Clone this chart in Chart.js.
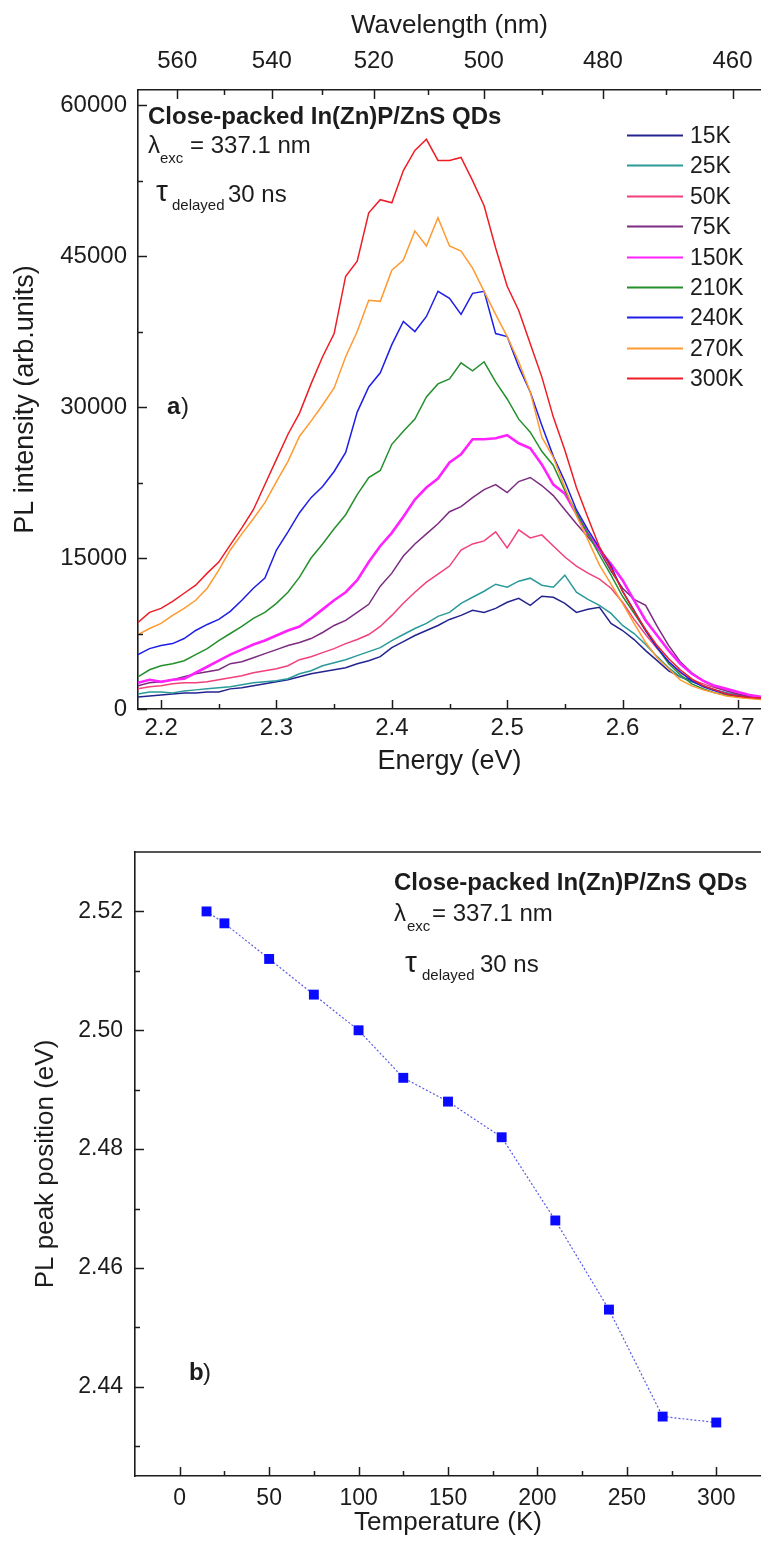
<!DOCTYPE html>
<html>
<head>
<meta charset="utf-8">
<title>Close-packed In(Zn)P/ZnS QDs – time-delayed PL</title>
<script src="https://cdn.jsdelivr.net/npm/chart.js@4/dist/chart.umd.min.js"></script>
<style>
  html, body { margin: 0; padding: 0; background: #ffffff; }
  #wrap { position: relative; width: 761px; height: 1543px; overflow: hidden; }
  #spectra { position: absolute; left: 0; top: 0; }
  #peaks { position: absolute; left: 0; top: 800px; }
</style>
</head>
<body>
<div id="wrap">
  <canvas id="spectra" width="761" height="800"></canvas>
  <canvas id="peaks" width="761" height="743"></canvas>
</div>
<script>
// ---------- (a) PL spectra at different temperatures ----------
const HC = 1239.84; // eV·nm, converts photon energy to wavelength

const energy = [2.18,2.19,2.20,2.21,2.22,2.23,2.24,2.25,2.26,2.27,
                2.28,2.29,2.30,2.31,2.32,2.33,2.34,2.35,2.36,2.37,
                2.38,2.39,2.40,2.41,2.42,2.43,2.44,2.45,2.46,2.47,
                2.48,2.49,2.50,2.51,2.52,2.53,2.54,2.55,2.56,2.57,
                2.58,2.59,2.60,2.61,2.62,2.63,2.64,2.65,2.66,2.67,
                2.68,2.69,2.70,2.71,2.72];

const I15K = [1200,1300,1400,1500,1600,1600,1700,1700,2000,2100,
              2300,2500,2700,2900,3200,3500,3700,3900,4100,4500,
              4800,5200,6100,6700,7300,7800,8300,8900,9300,9800,
              9600,10000,10600,11000,10300,11200,11100,10500,9600,9900,
              10100,8500,7800,6900,5800,4800,3800,3200,2800,2300,
              1900,1600,1300,1200,1000];
const I25K = [1500,1700,1700,1600,1800,1900,2000,2100,2200,2400,
              2600,2700,2800,3000,3500,3800,4300,4600,4900,5300,
              5700,6100,6800,7400,8000,8500,9200,9600,10500,11100,
              11700,12400,12100,12700,13000,12300,12100,13300,11600,10900,
              10300,9500,8300,7500,6400,5200,4100,3200,2700,2300,
              1900,1600,1400,1200,1100];
const I50K = [2000,2200,2300,2500,2600,2600,2700,2900,3100,3300,
              3600,3800,4000,4300,4900,5200,5600,6000,6500,6900,
              7400,8200,9300,10500,11600,12600,13400,14200,15800,16400,
              16700,17600,16000,17800,17000,17300,16200,15100,14200,13500,
              12900,12000,10600,8900,7400,6000,4700,3600,2900,2500,
              2100,1800,1500,1300,1100];
const I75K = [2300,2600,2700,2900,3200,3500,3700,3900,4500,4700,
              5100,5500,5900,6300,6600,7000,7600,8300,8800,9600,
              10400,12200,13500,15200,16400,17400,18400,19600,20100,21000,
              21800,22300,21500,22600,23000,22200,21200,19800,18400,17100,
              15700,13700,12000,10900,10300,8200,6300,4700,3600,2800,
              2200,1800,1500,1300,1100];
const I150K = [2600,2900,2700,2900,3000,3600,4200,4800,5400,5900,
               6400,6800,7300,7800,8200,9000,9900,10800,11600,12800,
               14600,16200,17500,19100,20800,22000,22900,24500,25300,26800,
               26800,26900,27200,26400,25900,24300,22300,21400,19400,17400,
               15800,14400,12800,10800,8800,7300,5800,4500,3500,2800,
               2300,2000,1700,1400,1200];
const I210K = [3200,3900,4300,4500,4800,5400,6000,6800,7500,8200,
               9000,9600,10500,11600,13100,15000,16400,17900,19300,21300,
               23000,23700,26300,27600,28800,31000,32300,32800,34400,33600,
               34500,32500,30800,28800,27500,25600,24200,21700,19500,17400,
               15300,13300,11200,9500,7800,6100,4500,3400,2500,2000,
               1600,1400,1200,1100,1000];
const I240K = [5400,6000,6300,6500,7000,7800,8400,8900,9700,10800,
               12000,13000,15800,17600,19500,21000,22100,23600,25500,29500,
               32000,33400,36200,38500,37500,39000,41500,40800,39200,41300,
               41500,37300,37000,34000,31500,28200,25100,22600,19800,17800,
               16000,14200,11700,9800,7800,6100,4700,3700,2800,2200,
               1800,1500,1300,1150,1050];
const I270K = [7400,8000,8500,9300,10000,10800,12000,13800,15800,17400,
               18900,20500,22600,24600,27100,28600,30200,31900,35000,37500,
               40600,40500,43600,44600,47500,46000,48800,46000,45500,43800,
               41500,39200,37000,34500,31500,27000,25000,22000,19200,16800,
               14300,12400,10500,8500,6600,5100,4000,2900,2300,1900,
               1600,1300,1150,1050,950];
const I300K = [8600,9600,10000,10700,11500,12300,13500,14600,16300,18000,
               19800,22300,24800,27300,29400,32300,35000,37300,43000,44500,
               49300,50600,50300,53500,55500,56600,54500,54500,54800,52500,
               50000,45800,42000,39600,36300,33000,29000,25700,22000,19000,
               16100,14000,11700,9700,7900,6300,5000,3900,3000,2300,
               1900,1500,1300,1150,1100];

const seriesLabels = ['15K', '25K', '50K', '75K', '150K', '210K', '240K', '270K', '300K'];
const spectra = [I15K, I25K, I50K, I75K, I150K, I210K, I240K, I270K, I300K];

const intensityTicks = [0, 15000, 30000, 45000, 60000];
const intensityMinor = [7500, 22500, 37500, 52500];
const energyTicks = [2.2, 2.3, 2.4, 2.5, 2.6, 2.7];
const energyMinor = [2.25, 2.35, 2.45, 2.55, 2.65];
const wavelengthTicks = [560, 540, 520, 500, 480, 460];
const wavelengthMinor = [550, 530, 510, 490, 470];

// ---------- (b) PL peak position vs temperature ----------
const temperature = [15, 25, 50, 75, 100, 125, 150, 180, 210, 240, 270, 300];
const peakEnergy = [2.520, 2.518, 2.512, 2.506, 2.500, 2.492, 2.488, 2.482, 2.468, 2.453, 2.435, 2.434];
const temperatureTicks = [0, 50, 100, 150, 200, 250, 300];
const temperatureMinor = [25, 75, 125, 175, 225, 275];
const peakTicks = [2.44, 2.46, 2.48, 2.50, 2.52];
const peakMinor = [2.43, 2.45, 2.47, 2.49, 2.51];

// ---------- styling ----------
const INK = '#1c1c1c';
const FAMILY = '"Liberation Sans", Arial, Helvetica, sans-serif';
const seriesColors = ['#24248f', '#2a9a9a', '#f2407c', '#7c2b82', '#ff22ff',
                      '#24902c', '#1e1ee6', '#ff9a30', '#ee1d25'];
const seriesWidths = [1.5, 1.5, 1.5, 1.5, 2.6, 1.5, 1.5, 1.5, 1.5];

Chart.defaults.font.family = FAMILY;
Chart.defaults.color = INK;

// Tick marks drawn inward from the frame, majors from each scale's ticks, minors from the lists above
const innerTicks = {
  id: 'innerTicks',
  afterDraw(chart, args, opts) {
    const ctx = chart.ctx, area = chart.chartArea;
    ctx.save();
    ctx.strokeStyle = INK;
    ctx.lineWidth = 1.5;
    Object.keys(opts.minor).forEach(id => {
      const s = chart.scales[id];
      const mark = (v, len) => {
        const p = Math.round(s.getPixelForValue(v)) + 0.5;
        ctx.beginPath();
        if (s.isHorizontal()) {
          const y0 = s.position === 'top' ? area.top : area.bottom;
          const dir = s.position === 'top' ? 1 : -1;
          ctx.moveTo(p, y0);
          ctx.lineTo(p, y0 + dir * len);
        } else {
          ctx.moveTo(area.left, p);
          ctx.lineTo(area.left + len, p);
        }
        ctx.stroke();
      };
      s.ticks.forEach(t => mark(t.value, 9));
      opts.minor[id].forEach(v => mark(v, 5));
    });
    ctx.restore();
  }
};

// Free text placed on the plot (sample description, panel letter)
const textNotes = {
  id: 'textNotes',
  afterDraw(chart, args, opts) {
    const ctx = chart.ctx;
    ctx.save();
    ctx.fillStyle = INK;
    ctx.textAlign = 'left';
    ctx.textBaseline = 'alphabetic';
    opts.items.forEach(it => {
      ctx.font = it.font;
      ctx.fillText(it.text, it.x, it.y);
    });
    ctx.restore();
  }
};

// Legend drawn inside the plotting area, one row per dataset
const insetLegend = {
  id: 'insetLegend',
  afterDraw(chart, args, o) {
    const ctx = chart.ctx;
    ctx.save();
    ctx.font = o.font;
    ctx.textAlign = 'left';
    ctx.textBaseline = 'middle';
    ctx.fillStyle = INK;
    chart.data.datasets.forEach((ds, i) => {
      const y = Math.round(o.top + i * o.rowGap) + 0.5;
      ctx.strokeStyle = ds.borderColor;
      ctx.lineWidth = 2;
      ctx.beginPath();
      ctx.moveTo(o.x0, y);
      ctx.lineTo(o.x1, y);
      ctx.stroke();
      ctx.fillText(ds.label, o.textX, y + 1);
    });
    ctx.restore();
  }
};

// Upper frame line for a panel without a top axis
const topFrame = {
  id: 'topFrame',
  afterDraw(chart) {
    const ctx = chart.ctx, a = chart.chartArea;
    ctx.save();
    ctx.strokeStyle = INK;
    ctx.lineWidth = 1.6;
    ctx.beginPath();
    ctx.moveTo(a.left, a.top);
    ctx.lineTo(a.right, a.top);
    ctx.stroke();
    ctx.restore();
  }
};

const frameBorder = { display: true, color: INK, width: 1.6 };
const noGrid = { display: false, drawTicks: false };
const fixedTicks = list => scale => { scale.ticks = list.map(v => ({ value: v })); };
// fixed band size for an axis; the plot runs right up to the canvas' right edge
const bandHeight = h => s => { s.height = h; s.paddingLeft = 0; s.paddingRight = 0; };
const bandWidth = w => s => { s.width = w; s.paddingTop = 0; s.paddingBottom = 0; };

// ---------- chart (a) ----------
new Chart(document.getElementById('spectra'), {
  type: 'line',
  data: {
    datasets: spectra.map((vals, i) => ({
      label: seriesLabels[i],
      data: energy.map((e, k) => ({ x: e, y: vals[k] })),
      borderColor: seriesColors[i],
      backgroundColor: seriesColors[i],
      borderWidth: seriesWidths[i],
      pointRadius: 0,
      tension: 0,
      fill: false,
      order: spectra.length - i
    }))
  },
  options: {
    responsive: false,
    animation: false,
    devicePixelRatio: 1,
    layout: { padding: 0, autoPadding: false },
    plugins: {
      legend: { display: false },
      tooltip: { enabled: false },
      innerTicks: {
        minor: {
          x: energyMinor,
          x2: wavelengthMinor.map(l => HC / l),
          y: intensityMinor
        }
      },
      insetLegend: { font: '23px ' + FAMILY, x0: 627, x1: 683, textX: 690, top: 135, rowGap: 30.4 },
      textNotes: {
        items: [
          { text: 'Close-packed In(Zn)P/ZnS QDs', x: 148, y: 124, font: 'bold 24px ' + FAMILY },
          { text: 'λ', x: 148, y: 153, font: '24px ' + FAMILY },
          { text: 'exc', x: 160, y: 163, font: '15px ' + FAMILY },
          { text: '= 337.1 nm', x: 190, y: 153, font: '24px ' + FAMILY },
          { text: 'τ', x: 156, y: 201, font: '30px ' + FAMILY },
          { text: 'delayed', x: 172, y: 210, font: '15px ' + FAMILY },
          { text: '30 ns', x: 228, y: 202, font: '24px ' + FAMILY },
          { text: 'a', x: 167, y: 414, font: 'bold 24px ' + FAMILY },
          { text: ')', x: 181, y: 414, font: '24px ' + FAMILY }
        ]
      }
    },
    scales: {
      x: {
        type: 'linear', position: 'bottom', min: 2.18, max: 2.72,
        afterBuildTicks: fixedTicks(energyTicks),
        afterFit: bandHeight(91),
        ticks: { callback: v => v.toFixed(1), font: { size: 24 }, color: INK, padding: 5, autoSkip: false, maxRotation: 0 },
        grid: noGrid, border: frameBorder,
        title: { display: true, text: 'Energy (eV)', font: { size: 27 }, color: INK, padding: { top: 0, bottom: 22 } }
      },
      x2: {
        type: 'linear', position: 'top', min: 2.18, max: 2.72,
        afterBuildTicks: scale => { scale.ticks = wavelengthTicks.map(l => ({ value: HC / l })); },
        afterFit: bandHeight(90),
        ticks: { callback: v => String(Math.round(HC / v)), font: { size: 24 }, color: INK, padding: 14, autoSkip: false, maxRotation: 0 },
        grid: noGrid, border: frameBorder,
        title: { display: true, text: 'Wavelength (nm)', font: { size: 26 }, color: INK, padding: { top: 10, bottom: 0 } }
      },
      y: {
        type: 'linear', position: 'left', min: 0, max: 61500,
        afterBuildTicks: fixedTicks(intensityTicks),
        afterFit: bandWidth(138),
        ticks: { callback: v => String(v), font: { size: 24 }, color: INK, padding: 11, autoSkip: false },
        grid: noGrid, border: frameBorder,
        title: { display: true, text: 'PL intensity (arb.units)', font: { size: 27 }, color: INK, padding: { top: 9, bottom: 0 } }
      }
    }
  },
  plugins: [innerTicks, insetLegend, textNotes]
});

// ---------- chart (b) ----------
new Chart(document.getElementById('peaks'), {
  type: 'line',
  data: {
    datasets: [{
      label: 'PL peak position',
      data: temperature.map((t, k) => ({ x: t, y: peakEnergy[k] })),
      borderColor: '#5a5ae8',
      borderWidth: 1.2,
      borderDash: [2, 2],
      pointStyle: 'rect',
      pointRadius: 7,
      pointBackgroundColor: '#0a0aff',
      pointBorderColor: '#0a0aff',
      pointBorderWidth: 0,
      tension: 0,
      fill: false,
      clip: false
    }]
  },
  options: {
    responsive: false,
    animation: false,
    devicePixelRatio: 1,
    layout: { padding: { top: 52, left: 0, right: 0, bottom: 0 }, autoPadding: false },
    plugins: {
      legend: { display: false },
      tooltip: { enabled: false },
      innerTicks: { minor: { x: temperatureMinor, y: peakMinor } },
      textNotes: {
        items: [
          { text: 'Close-packed In(Zn)P/ZnS QDs', x: 394, y: 90, font: 'bold 24px ' + FAMILY },
          { text: 'λ', x: 394, y: 121, font: '24px ' + FAMILY },
          { text: 'exc', x: 407, y: 131, font: '15px ' + FAMILY },
          { text: '= 337.1 nm', x: 432, y: 121, font: '24px ' + FAMILY },
          { text: 'τ', x: 405, y: 172, font: '30px ' + FAMILY },
          { text: 'delayed', x: 422, y: 180, font: '15px ' + FAMILY },
          { text: '30 ns', x: 480, y: 172, font: '24px ' + FAMILY },
          { text: 'b', x: 189, y: 580, font: 'bold 24px ' + FAMILY },
          { text: ')', x: 203, y: 580, font: '24px ' + FAMILY }
        ]
      }
    },
    scales: {
      x: {
        type: 'linear', position: 'bottom', min: -25, max: 325,
        afterBuildTicks: fixedTicks(temperatureTicks),
        afterFit: bandHeight(67),
        ticks: { callback: v => String(v), font: { size: 23 }, color: INK, padding: 9, autoSkip: false, maxRotation: 0 },
        grid: noGrid, border: frameBorder,
        title: { display: true, text: 'Temperature (K)', font: { size: 26 }, color: INK, padding: { top: 0, bottom: 5 } }
      },
      y: {
        type: 'linear', position: 'left', min: 2.425, max: 2.530,
        afterBuildTicks: fixedTicks(peakTicks),
        afterFit: bandWidth(135),
        ticks: { callback: v => v.toFixed(2), font: { size: 23 }, color: INK, padding: 12, autoSkip: false },
        grid: noGrid, border: frameBorder,
        title: { display: true, text: 'PL peak position (eV)', font: { size: 26 }, color: INK, padding: { top: 30, bottom: 0 } }
      }
    }
  },
  plugins: [innerTicks, topFrame, textNotes]
});
</script>
</body>
</html>
